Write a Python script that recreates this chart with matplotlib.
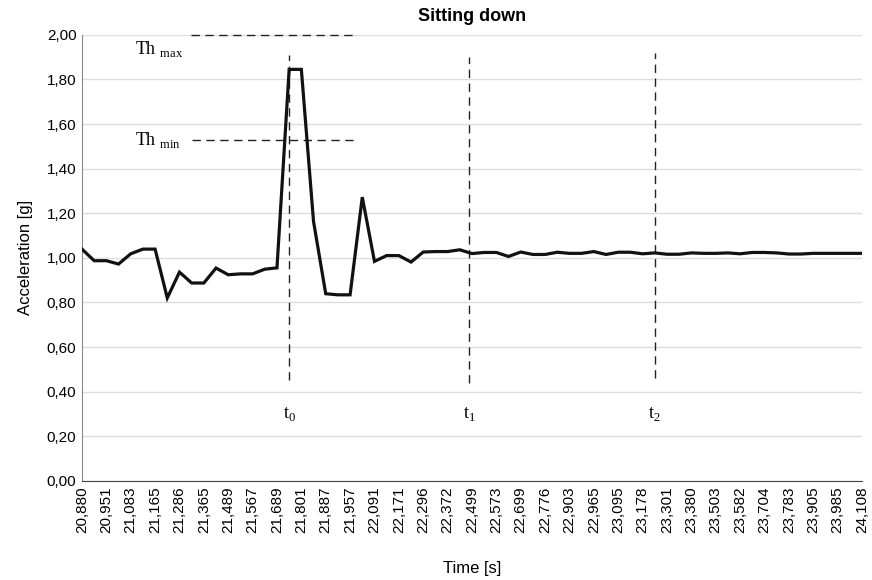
import matplotlib
matplotlib.use("Agg")
import matplotlib.pyplot as plt
import numpy as np

# acceleration samples (one every half label step)
accel = [1.039, 0.987, 0.987, 0.972, 1.018, 1.039, 1.039, 0.820, 0.936, 0.887,
         0.887, 0.954, 0.924, 0.928, 0.928, 0.949, 0.955, 1.845, 1.845, 1.163,
         0.839, 0.834, 0.834, 1.272, 0.984, 1.010, 1.010, 0.981, 1.026, 1.028,
         1.028, 1.036, 1.019, 1.024, 1.024, 1.006, 1.026, 1.015, 1.015, 1.025,
         1.020, 1.020, 1.028, 1.015, 1.025, 1.025, 1.018, 1.022, 1.016, 1.016,
         1.022, 1.020, 1.020, 1.022, 1.018, 1.024, 1.024, 1.022, 1.017, 1.017,
         1.020, 1.020, 1.020, 1.020, 1.020]

time_labels = ["20,880", "20,951", "21,083", "21,165", "21,286", "21,365",
               "21,489", "21,567", "21,689", "21,801", "21,887", "21,957",
               "22,091", "22,171", "22,296", "22,372", "22,499", "22,573",
               "22,699", "22,776", "22,903", "22,965", "23,095", "23,178",
               "23,301", "23,380", "23,503", "23,582", "23,704", "23,783",
               "23,905", "23,985", "24,108"]

y_ticks = [0.0, 0.2, 0.4, 0.6, 0.8, 1.0, 1.2, 1.4, 1.6, 1.8, 2.0]

# event markers (sample index) and threshold levels
events = {"0": 17.0, "1": 31.75, "2": 47.0}
th_max = 2.00
th_min = 1.53

plt.rcParams['font.family'] = ['Liberation Sans', 'DejaVu Sans']
plt.rcParams['mathtext.fontset'] = 'custom'
plt.rcParams['mathtext.rm'] = 'Liberation Serif'

fig = plt.figure(figsize=(8.72, 5.80), dpi=100)
ax = fig.add_axes([0.094, 0.171, 0.8945, 0.769])

x = np.arange(len(accel))
ax.plot(x, accel, color='#111111', linewidth=2.3, solid_joinstyle='miter', zorder=3)

ax.set_xlim(0, len(accel) - 1)
ax.set_ylim(0, 2.0)
ax.set_yticks(y_ticks)
ax.set_yticklabels([f"{v:.2f}".replace('.', ',') for v in y_ticks], fontsize=11)
ax.set_xticks(np.arange(0, len(accel), 2))
ax.set_xticklabels(time_labels, rotation=90, fontsize=11)
ax.tick_params(length=0, pad=4)

ax.grid(axis='y', color='#dddddd', linewidth=1)
ax.set_axisbelow(True)
for s in ['top', 'right']:
    ax.spines[s].set_visible(False)
ax.spines['left'].set_color('#888888')
ax.spines['bottom'].set_color('#444444')

ax.set_title("Sitting down", fontsize=13, fontweight='bold', pad=10)
ax.set_xlabel("Time [s]", fontsize=12, labelpad=20)
ax.set_ylabel("Acceleration [g]", fontsize=12, labelpad=10)

# threshold lines
dash = (0, (6, 4))
ax.plot([8.95, 22.2], [th_max, th_max], color='#222222', lw=1, ls=dash, clip_on=False)
ax.plot([9.05, 22.5], [th_min, th_min], color='#222222', lw=1, ls=dash)
serif = ['Liberation Serif', 'DejaVu Serif']
ax.text(4.35, 1.935, r"Th $_{\mathrm{max}}$", family=serif, fontsize=13, va='center')
ax.text(4.35, 1.53, r"Th $_{\mathrm{min}}$", family=serif, fontsize=13, va='center')

# event lines
spans = {"0": (0.45, 1.91), "1": (0.44, 1.90), "2": (0.46, 1.92)}
for k, xi in events.items():
    lo, hi = spans[k]
    ax.plot([xi, xi], [lo, hi], color='#222222', lw=1, ls=dash)
    ax.text(xi, 0.30, r"t$_{%s}$" % k, family=serif, fontsize=13, ha='center', va='center')

fig.savefig("out.png", dpi=100, facecolor='white')
